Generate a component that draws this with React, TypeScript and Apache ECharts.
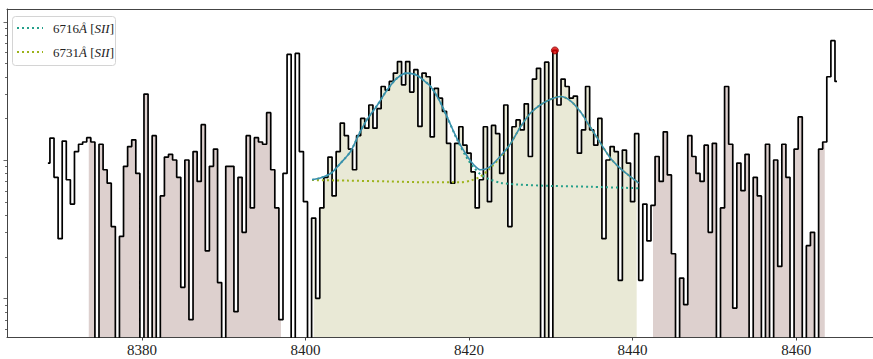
import { useEffect, useRef } from "react";
import * as echarts from "echarts";

// Spectrum sampling: uniform 0.5 Å bins starting at 8368.5 Å
const WAVE_START = 8368.5;
const BIN_WIDTH = 0.5;

// Observed flux per bin, in 10 Å chunks (values far below the axis floor are non-detections)
const flux8368 = [0.95, 1.44, 0.75, 0.27, 1.37, 0.72, 0.48, 1.15, 1.3, 1.35, 1.45, 1.35, 0.01, 1.3, 0.85, 0.68, 0.33, 0.01, 0.28, 0.9];
const flux8378 = [1.25, 1.4, 0.8, 0.01, 3.0, 0.01, 1.5, 0.01, 0.55, 1.05, 1.1, 1.0, 0.75, 0.12, 1.0, 0.07, 1.15, 0.7, 1.8, 0.22];
const flux8388 = [0.9, 1.2, 0.13, 0.01, 0.9, 0.9, 0.08, 0.75, 0.3, 1.5, 0.45, 1.45, 1.35, 1.3, 2.2, 0.85, 0.45, 0.07, 0.8, 5.8];
const flux8398 = [0.01, 5.9, 1.15, 0.5, 0.01, 0.38, 0.1, 0.45, 0.75, 1.05, 0.55, 1.15, 1.85, 1.5, 1.2, 0.85, 1.5, 2.0, 1.7, 2.5];
const flux8408 = [1.7, 2.35, 3.4, 3.2, 3.7, 4.25, 5.15, 3.5, 5.15, 3.1, 4.5, 1.75, 4.25, 4.0, 1.47, 3.3, 2.8, 2.25, 1.32, 0.68];
const flux8418 = [1.32, 1.74, 1.28, 1.12, 0.82, 0.45, 0.72, 1.74, 0.5, 1.78, 1.55, 0.8, 2.5, 0.33, 1.74, 1.95, 1.65, 2.55, 1.06, 3.85];
const flux8428 = [4.6, 0.01, 5.1, 0.01, 6.2, 2.5, 3.85, 3.4, 2.8, 2.9, 1.12, 1.65, 3.4, 1.65, 1.28, 2.0, 0.27, 1.0, 1.25, 1.15];
const flux8438 = [0.135, 1.18, 0.95, 0.5, 1.55, 0.135, 0.48, 0.26, 0.47, 1.06, 0.7, 1.6, 0.78, 0.21, 0.01, 0.14, 0.09, 1.5, 1.06, 0.8];
const flux8448 = [0.7, 1.28, 0.3, 1.32, 0.01, 0.45, 3.4, 1.3, 0.085, 0.95, 0.6, 1.1, 0.01, 0.75, 0.55, 0.01, 1.3, 0.01, 1.0, 0.17];
const flux8458 = [1.3, 0.75, 0.01, 1.2, 2.05, 0.01, 0.24, 0.3, 0.01, 1.2, 1.35, 4.0, 7.3, 3.7];

// Shaded windows [start, end] in Å
const continuumWindows = [
  [8373.5, 8397.0],
  [8442.5, 8463.5],
];
const lineWindow = [8401.0, 8440.5];

// Total fitted model (two Gaussians on a continuum)
const fitWave = [8400.8, 8401.8, 8403.1, 8404.3, 8405.5, 8406.5, 8407.5, 8408.8, 8410.0, 8411.2, 8412.4, 8413.5, 8414.5, 8415.3, 8416.3, 8417.3, 8418.6, 8419.8, 8420.6, 8421.4, 8422.4, 8423.8, 8425.1, 8426.3, 8427.5, 8428.7, 8430.0, 8431.2, 8432.4, 8433.6, 8434.8, 8436.1, 8437.3, 8438.5, 8439.7, 8440.75];
const fitFlux = [0.72, 0.74, 0.8, 0.95, 1.15, 1.52, 1.95, 2.5, 3.22, 3.91, 4.25, 4.13, 3.75, 3.4, 2.75, 2.06, 1.4, 1.06, 0.92, 0.85, 0.88, 1.06, 1.32, 1.74, 2.18, 2.5, 2.75, 2.88, 2.68, 2.24, 1.74, 1.32, 1.03, 0.87, 0.76, 0.68];

// Individual line components (continuum + one Gaussian each)
const comp6716Wave = [8400.8, 8401.8, 8403.1, 8404.3, 8405.5, 8406.5, 8407.5, 8408.8, 8410.0, 8411.2, 8412.4, 8413.5, 8414.5, 8415.3, 8416.3, 8417.3, 8418.6, 8419.8, 8420.6, 8421.4, 8422.4, 8423.8, 8426.0, 8430.0, 8435.0, 8440.75];
const comp6716Flux = [0.72, 0.74, 0.8, 0.95, 1.15, 1.52, 1.95, 2.5, 3.22, 3.91, 4.25, 4.13, 3.75, 3.4, 2.75, 2.06, 1.38, 1.02, 0.88, 0.79, 0.73, 0.685, 0.665, 0.65, 0.64, 0.625];
const comp6731Wave = [8400.8, 8405.0, 8410.0, 8415.0, 8419.0, 8420.2, 8421.4, 8422.4, 8423.8, 8425.1, 8426.3, 8427.5, 8428.7, 8430.0, 8431.2, 8432.4, 8433.6, 8434.8, 8436.1, 8437.3, 8438.5, 8439.7, 8440.75];
const comp6731Flux = [0.716, 0.71, 0.7, 0.69, 0.69, 0.71, 0.76, 0.85, 1.04, 1.32, 1.74, 2.18, 2.5, 2.75, 2.88, 2.68, 2.24, 1.74, 1.32, 1.03, 0.87, 0.76, 0.68];

const peakWave = 8430.5;

const xTicks = [8380, 8400, 8420, 8440, 8460];
const yMajorTicks = [0.1, 1, 10];
const yMinorTicks = [0.06, 0.07, 0.08, 0.09, 0.2, 0.3, 0.4, 0.5, 0.6, 0.7, 0.8, 0.9, 2, 3, 4, 5, 6, 7, 8, 9];

const X_MIN = 8363.5;
const X_MAX = 8469.4;
const Y_MIN = 0.0525;
const Y_MAX = 12.36;

const SERIF = "Liberation Serif, serif";

export default function App() {
  const ref = useRef<HTMLDivElement>(null);

  useEffect(() => {
    document.body.style.margin = "0";
    if (!ref.current) return;
    const chart = echarts.init(ref.current, undefined, { renderer: "svg" });

    const flux = [
      ...flux8368, ...flux8378, ...flux8388, ...flux8398, ...flux8408,
      ...flux8418, ...flux8428, ...flux8438, ...flux8448, ...flux8458,
    ];
    const spectrum = flux.map((f, i) => [WAVE_START + i * BIN_WIDTH, f]);
    const inWindow = (w: number[]) => spectrum.filter((p) => p[0] >= w[0] - 1e-6 && p[0] <= w[1] + 1e-6);
    const peakPoint = spectrum.find((p) => Math.abs(p[0] - peakWave) < 1e-6)!;

    const fill = (data: number[][], color: string) => ({
      type: "line",
      data,
      step: "middle",
      symbol: "none",
      silent: true,
      lineStyle: { width: 0 },
      areaStyle: { color, opacity: 1, origin: "start" },
      z: 1,
    });

    const curve = (w: number[], f: number[], color: string, dashed: boolean, z: number) => ({
      type: "line",
      data: w.map((x, i) => [x, f[i]]),
      smooth: 0.3,
      symbol: "none",
      silent: true,
      lineStyle: dashed
        ? { color, width: 2, type: [2, 3], cap: "butt" }
        : { color, width: 1.6 },
      z,
    });

    chart.setOption({
      animation: false,
      backgroundColor: "#fff",
      textStyle: { fontFamily: SERIF },
      grid: { left: 7, right: 0, top: 9, bottom: 22 },
      xAxis: [
        {
          type: "value",
          min: X_MIN,
          max: X_MAX,
          position: "bottom",
          axisLine: { show: true, lineStyle: { color: "#444", width: 1 } },
          axisTick: { show: true, customValues: xTicks, length: 3.5, lineStyle: { color: "#444" } },
          axisLabel: {
            customValues: xTicks,
            formatter: (v: number) => String(v),
            fontFamily: SERIF,
            fontSize: 15,
            color: "#222",
            margin: 5,
          },
          splitLine: { show: false },
        },
        {
          type: "value",
          min: X_MIN,
          max: X_MAX,
          position: "top",
          axisLine: { show: true, lineStyle: { color: "#444", width: 1 } },
          axisTick: { show: false },
          axisLabel: { show: false },
          splitLine: { show: false },
        },
      ],
      yAxis: {
        type: "log",
        logBase: 10,
        min: Y_MIN,
        max: Y_MAX,
        axisLine: { show: true, lineStyle: { color: "#444", width: 1 } },
        axisTick: { show: false },
        axisLabel: { show: false },
        splitLine: { show: false },
        minorTick: { show: false },
      },
      series: [
        fill(inWindow(continuumWindows[0]), "#ddd0ce"),
        fill(inWindow(lineWindow), "#e9e9d6"),
        fill(inWindow(continuumWindows[1]), "#ddd0ce"),
        {
          type: "line",
          data: spectrum,
          step: "middle",
          symbol: "none",
          silent: true,
          lineStyle: { color: "#000", width: 1.7 },
          z: 3,
        },
        curve(comp6716Wave, comp6716Flux, "#26a08a", true, 4),
        curve(comp6731Wave, comp6731Flux, "#9db31c", true, 4),
        curve(fitWave, fitFlux, "#3a8fae", false, 5),
        {
          type: "scatter",
          data: [peakPoint],
          symbol: "circle",
          symbolSize: 7,
          itemStyle: { color: "#e00000", borderColor: "#8a0000", borderWidth: 1 },
          silent: true,
          z: 6,
        },
      ],
    });

    // y-axis ticks (major and 2..9 minors) placed through the log scale
    const x0 = chart.convertToPixel({ xAxisIndex: 0 }, X_MIN) as number;
    const tickLines = [
      ...yMajorTicks.map((v) => ({ v, len: 3.5 })),
      ...yMinorTicks.map((v) => ({ v, len: 2 })),
    ].map(({ v, len }) => {
      const y = Math.round(chart.convertToPixel({ yAxisIndex: 0 }, v) as number) + 0.5;
      return {
        type: "line",
        silent: true,
        shape: { x1: x0 - len, y1: y, x2: x0, y2: y },
        style: { stroke: "#444", lineWidth: 0.8 },
      };
    });

    const legendEntry = (y: number, color: string, label: string) => [
      {
        type: "line",
        shape: { x1: 17, y1: y, x2: 43, y2: y },
        style: { stroke: color, lineWidth: 2, lineDash: [2, 3] },
      },
      {
        type: "text",
        x: 53,
        y,
        style: {
          text: `{n|${label}}{i|Å}{n| [}{i|SII}{n|]}`,
          verticalAlign: "middle",
          fontFamily: SERIF,
          rich: {
            n: { fontFamily: SERIF, fontSize: 13, fill: "#222" },
            i: { fontFamily: SERIF, fontSize: 13, fontStyle: "italic", fill: "#222" },
          },
        },
      },
    ];

    chart.setOption({
      graphic: [
        ...tickLines,
        {
          type: "group",
          silent: true,
          children: [
            {
              type: "rect",
              shape: { x: 12.5, y: 16.5, width: 103, height: 49, r: 3 },
              style: { fill: "rgba(255,255,255,0.85)", stroke: "#d4d4d4", lineWidth: 1 },
            },
            ...legendEntry(28, "#26a08a", "6716"),
            ...legendEntry(52, "#9db31c", "6731"),
          ],
        },
      ],
    });

    return () => chart.dispose();
  }, []);

  return <div ref={ref} style={{ width: 873, height: 359 }} />;
}
